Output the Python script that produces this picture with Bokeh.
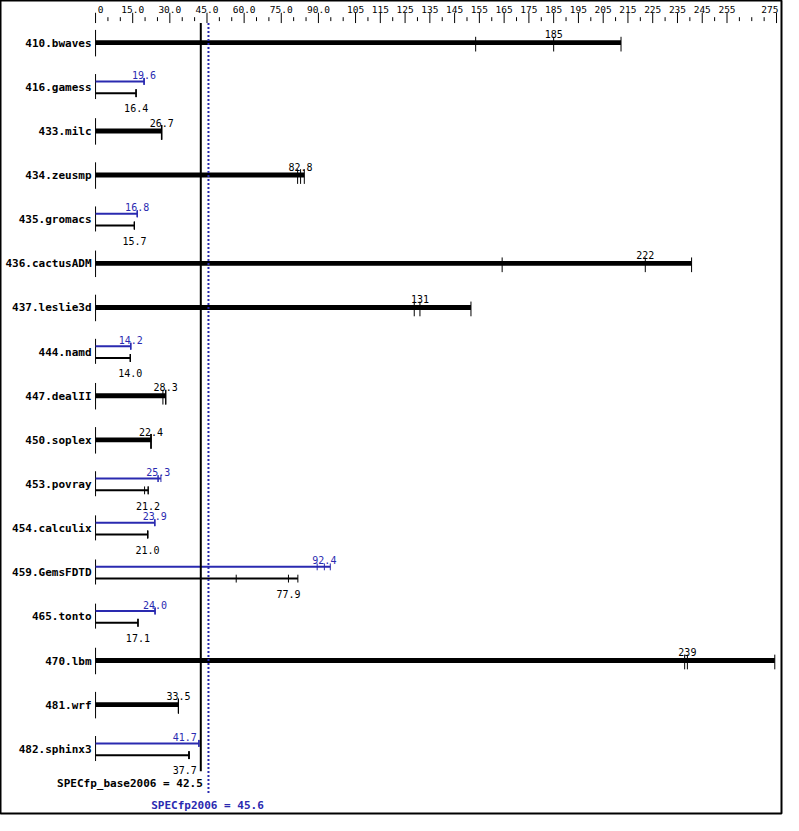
from bokeh.plotting import figure
from bokeh.models import Range1d
from bokeh.embed import file_html
from bokeh.resources import INLINE
from bokeh.core.properties import value

# ---------------- data ----------------
benchmarks = ["410.bwaves", "416.gamess", "433.milc", "434.zeusmp", "435.gromacs",
              "436.cactusADM", "437.leslie3d", "444.namd", "447.dealII", "450.soplex",
              "453.povray", "454.calculix", "459.GemsFDTD", "465.tonto", "470.lbm",
              "481.wrf", "482.sphinx3"]

base_median = [185, 16.4, 26.7, 82.8, 15.7, 222, 131, 14.0, 28.3, 22.4,
               21.2, 21.0, 77.9, 17.1, 239, 33.5, 37.7]
base_runs = [[153.5, 185, 212.2], [16.3, 16.4, 16.4], [26.6, 26.7, 26.8],
             [81.6, 82.8, 84.3], [15.6, 15.7, 15.7], [164.2, 222, 240.7],
             [128.7, 131, 151.6], [14.0, 14.0, 14.1], [27.2, 28.3, 28.4],
             [22.3, 22.4, 22.5], [19.8, 21.2, 21.3], [21.0, 21.0, 21.2],
             [56.8, 77.9, 81.7], [17.1, 17.1, 17.2], [237.9, 239, 274.3],
             [33.4, 33.5, 33.5], [37.6, 37.7, 37.9]]

peak_median = [None, 19.6, None, None, 16.8, None, None, 14.2, None, None,
               25.3, 23.9, 92.4, 24.0, None, None, 41.7]
peak_runs = [None, [19.5, 19.6, 19.7], None, None, [16.8, 16.8, 16.9], None, None,
             [14.2, 14.2, 14.3], None, None, [25.2, 25.3, 26.4], [23.9, 23.9, 24.0],
             [89.5, 92.4, 94.8], [24.0, 24.0, 24.1], None, None, [41.7, 41.7, 41.8]]

base_score = 42.5
peak_score = 45.6
base_score_label = "SPECfp_base2006 = 42.5"
peak_score_label = "SPECfp2006 = 45.6"

major_ticks = [0, 15, 30, 45, 60, 75, 90, 105, 115, 125, 135, 145, 155, 165, 175,
               185, 195, 205, 215, 225, 235, 245, 255, 275]
major_labels = ["0", "15.0", "30.0", "45.0", "60.0", "75.0", "90.0", "105", "115",
                "125", "135", "145", "155", "165", "175", "185", "195", "205", "215",
                "225", "235", "245", "255", "275"]

# ---------------- style ----------------
BLUE = "#2a2ab0"
MONO = value("DejaVu Sans Mono")
ROW0, STEP = 43, 45          # vertical layout (reference pixel units)
HALF_LABEL = 4.8             # half width of a 4-char value label, in data units


def fmt(v):
    return f"{v:.0f}" if v >= 100 else f"{v:.1f}"


p = figure(width=783, height=815, output_backend="svg", toolbar_location=None,
           x_range=Range1d(-97 / 2.527, (797 - 97) / 2.527),
           y_range=Range1d(829, 0),
           x_axis_location=None, y_axis_location=None,
           min_border_left=0, min_border_top=0, min_border_right=2, min_border_bottom=2)
p.grid.visible = False
p.outline_line_color = "black"
p.outline_line_width = 2
p.background_fill_color = "white"

# ---------------- top scale ----------------
minor_ticks = [v for v in range(0, 280, 5) if v not in major_ticks]
p.segment(x0=major_ticks, x1=major_ticks, y0=[12.5] * len(major_ticks),
          y1=[23] * len(major_ticks), line_color="black", line_width=1)
p.segment(x0=minor_ticks, x1=minor_ticks, y0=[17] * len(minor_ticks),
          y1=[21] * len(minor_ticks), line_color="black", line_width=1)
p.text(x=major_ticks[:1], y=[9.5], text=major_labels[:1], x_offset=5,
       text_font=MONO, text_font_size="9.5px", text_align="center",
       text_baseline="alphabetic", text_color="black")
p.text(x=major_ticks[1:-1], y=[9.5] * (len(major_ticks) - 2), text=major_labels[1:-1],
       text_font=MONO, text_font_size="9.5px", text_align="center",
       text_baseline="alphabetic", text_color="black")
p.text(x=major_ticks[-1:], y=[9.5], text=major_labels[-1:], x_offset=2,
       text_font=MONO, text_font_size="9.5px", text_align="right",
       text_baseline="alphabetic", text_color="black")

# ---------------- rows ----------------
yc = [ROW0 + STEP * i for i in range(len(benchmarks))]

p.text(x=[0] * len(benchmarks), y=[y + 0.5 for y in yc], text=benchmarks, x_offset=-4,
       text_font=MONO, text_font_style="bold", text_font_size="11px",
       text_align="right", text_baseline="middle", text_color="black")

single = [i for i in range(len(benchmarks)) if peak_median[i] is None]
dual = [i for i in range(len(benchmarks)) if peak_median[i] is not None]

p.segment(x0=[0] * len(single), x1=[0] * len(single),
          y0=[yc[i] - 13 for i in single], y1=[yc[i] + 14 for i in single],
          line_color="black", line_width=1)
p.segment(x0=[0] * len(dual), x1=[0] * len(dual),
          y0=[yc[i] - 13 for i in dual], y1=[yc[i] + 12.5 for i in dual],
          line_color="black", line_width=1)

# single (base == peak) thick bars
p.hbar(y=[yc[i] for i in single], left=0, right=[max(base_runs[i]) for i in single],
       height=5, fill_color="black", line_color=None)
sx, sy0, sy1 = [], [], []
for i in single:
    for r in base_runs[i]:
        sx.append(r); sy0.append(yc[i] - 6); sy1.append(yc[i] + 9)
p.segment(x0=sx, x1=sx, y0=sy0, y1=sy1, line_color="black", line_width=1)
p.text(x=[base_median[i] for i in single], y=[yc[i] - 8.5 for i in single],
       text=[fmt(base_median[i]) for i in single], text_font=MONO, text_font_size="10px",
       text_align="center", text_baseline="alphabetic", text_color="black")

# dual: peak (blue) above, base (black) below
p.segment(x0=[0] * len(dual), x1=[max(peak_runs[i]) for i in dual],
          y0=[yc[i] - 5.5 for i in dual], y1=[yc[i] - 5.5 for i in dual],
          line_color=BLUE, line_width=2)
p.segment(x0=[0] * len(dual), x1=[max(base_runs[i]) for i in dual],
          y0=[yc[i] + 6.5 for i in dual], y1=[yc[i] + 6.5 for i in dual],
          line_color="black", line_width=2)
bx, by0, by1, kx, ky0, ky1 = [], [], [], [], [], []
for i in dual:
    for r in peak_runs[i]:
        bx.append(r); by0.append(yc[i] - 9); by1.append(yc[i] - 2)
    for r in base_runs[i]:
        kx.append(r); ky0.append(yc[i] + 2.5); ky1.append(yc[i] + 10.5)
p.segment(x0=bx, x1=bx, y0=by0, y1=by1, line_color=BLUE, line_width=1)
p.segment(x0=kx, x1=kx, y0=ky0, y1=ky1, line_color="black", line_width=1)


def clashes(v):
    # a centred label that would run into the base-score line is set to its left
    return v < base_score < v + HALF_LABEL + 0.5


def add_labels(vals, ys, color):
    free = [(v, y) for v, y in zip(vals, ys) if not clashes(v)]
    moved = [(v, y) for v, y in zip(vals, ys) if clashes(v)]
    if free:
        p.text(x=[v for v, _ in free], y=[y for _, y in free],
               text=[fmt(v) for v, _ in free], text_font=MONO, text_font_size="10px",
               text_align="center", text_baseline="alphabetic", text_color=color)
    if moved:
        p.text(x=[base_score] * len(moved), y=[y for _, y in moved],
               text=[fmt(v) for v, _ in moved], x_offset=-4,
               text_font=MONO, text_font_size="10px",
               text_align="right", text_baseline="alphabetic", text_color=color)


add_labels([peak_median[i] for i in dual], [yc[i] - 12 for i in dual], BLUE)
add_labels([base_median[i] for i in dual], [yc[i] + 22 for i in dual], "black")

# ---------------- overall scores ----------------
p.segment(x0=[base_score], x1=[base_score], y0=[23], y1=[786],
          line_color="black", line_width=2)
p.segment(x0=[peak_score], x1=[peak_score], y0=[23], y1=[808],
          line_color=BLUE, line_width=2, line_dash="2 2")
p.text(x=[base_score], y=[798], text=[base_score_label], x_offset=2,
       text_font=MONO, text_font_style="bold", text_font_size="11px",
       text_align="right", text_baseline="alphabetic", text_color="black")
p.text(x=[peak_score], y=[820.5], text=[peak_score_label], x_offset=-1,
       text_font=MONO, text_font_style="bold", text_font_size="11px",
       text_align="center", text_baseline="alphabetic", text_color=BLUE)

open("out.html", "w").write(file_html(p, INLINE))
